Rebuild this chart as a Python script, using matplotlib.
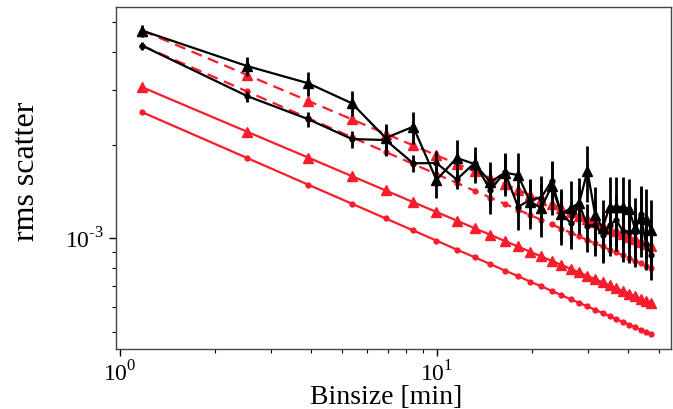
import matplotlib
matplotlib.use("Agg")
import matplotlib.pyplot as plt
from matplotlib.ticker import LogLocator, NullFormatter, FuncFormatter
import numpy as np

plt.rcParams['font.family'] = ['Liberation Serif', 'DejaVu Serif']
plt.rcParams['mathtext.fontset'] = 'custom'
plt.rcParams['mathtext.rm'] = 'Liberation Serif'
plt.rcParams['axes.unicode_minus'] = False

# binsize [min]
binsize = [1.176, 2.517, 3.929, 5.387, 6.884, 8.408, 9.959, 11.53, 13.13, 14.74,
           16.36, 18.00, 19.65, 21.32, 22.99, 24.69, 26.38, 28.09, 29.81, 31.54,
           33.28, 35.02, 36.77, 38.53, 40.29, 42.06, 43.84, 45.63, 47.43]

# rms values in units of 1e-3
exp_dot = [2.550, 1.816, 1.488, 1.293, 1.159, 1.060, 0.983, 0.920, 0.869, 0.825,
           0.787, 0.755, 0.725, 0.700, 0.677, 0.655, 0.636, 0.619, 0.603, 0.588,
           0.574, 0.561, 0.549, 0.537, 0.527, 0.517, 0.507, 0.498, 0.490]
exp_tri = [3.070, 2.207, 1.820, 1.587, 1.427, 1.308, 1.216, 1.141, 1.078, 1.026,
           0.980, 0.941, 0.905, 0.874, 0.846, 0.821, 0.797, 0.776, 0.756, 0.738,
           0.721, 0.705, 0.690, 0.677, 0.663, 0.651, 0.639, 0.628, 0.618]
white_dot = [4.180, 2.976, 2.440, 2.119, 1.899, 1.737, 1.611, 1.509, 1.424, 1.353,
             1.291, 1.237, 1.189, 1.147, 1.109, 1.074, 1.043, 1.014, 0.988, 0.963,
             0.941, 0.919, 0.900, 0.881, 0.863, 0.847, 0.831, 0.817, 0.803]
white_tri = [4.680, 3.364, 2.774, 2.420, 2.175, 1.994, 1.853, 1.739, 1.644, 1.564,
             1.494, 1.434, 1.380, 1.333, 1.290, 1.251, 1.215, 1.183, 1.153, 1.125,
             1.099, 1.075, 1.053, 1.031, 1.011, 0.993, 0.975, 0.958, 0.942]
obs_tri = [4.675, 3.595, 3.162, 2.726, 2.107, 2.291, 1.542, 1.816, 1.737, 1.519,
           1.628, 1.600, 1.313, 1.252, 1.475, 1.198, 1.252, 1.300, 1.649, 1.189,
           1.080, 1.262, 1.262, 1.262, 1.243, 1.080, 1.163, 1.154, 1.064]
obs_tri_err = [0.213, 0.249, 0.282, 0.254, 0.231, 0.270, 0.188, 0.260, 0.234, 0.244,
               0.261, 0.284, 0.245, 0.244, 0.288, 0.245, 0.278, 0.265, 0.337, 0.275,
               0.250, 0.315, 0.315, 0.315, 0.310, 0.270, 0.290, 0.288, 0.266]
obs_dot = [4.180, 2.877, 2.421, 2.091, 2.075, 1.746, 1.749, 1.548, 1.749, 1.432,
           1.636, 1.264, 1.329, 1.354, 1.530, 1.198, 1.124, 1.290, 1.096, 1.104,
           1.025, 1.104, 1.146, 1.056, 1.048, 1.048, 1.198, 0.959, 0.884]
obs_dot_err = [0.126, 0.120, 0.129, 0.128, 0.227, 0.107, 0.163, 0.107, 0.135, 0.230,
               0.234, 0.203, 0.213, 0.240, 0.245, 0.213, 0.200, 0.184, 0.195, 0.225,
               0.182, 0.225, 0.234, 0.216, 0.214, 0.214, 0.277, 0.170, 0.149]


def scale(vals):
    return [v * 1e-3 for v in vals]


def pow10(val, pos):
    e = int(round(np.log10(val)))
    return r'$10^{\text{%d}}$' % e


red = '#f81c2c'

fig = plt.figure(figsize=(6.73, 4.09), dpi=100)
ax = fig.add_axes([0.1724, 0.146, 0.8246, 0.836])

ax.plot(binsize, scale(exp_dot), '-', color=red, lw=1.6, marker='o', ms=3.5, zorder=2)
ax.plot(binsize, scale(exp_tri), '-', color=red, lw=1.6, marker='^', ms=7, zorder=2)
ax.plot(binsize, scale(white_dot), '--', color=red, lw=1.6, marker='o', ms=3.5,
        dashes=(5, 3), zorder=2)
ax.plot(binsize, scale(white_tri), '--', color=red, lw=1.6, marker='^', ms=7,
        dashes=(5, 3), zorder=2)

ax.errorbar(binsize, scale(obs_dot), yerr=scale(obs_dot_err), color='black', lw=1.6,
            marker='o', ms=3.5, elinewidth=2, capsize=0, zorder=3)
ax.errorbar(binsize, scale(obs_tri), yerr=scale(obs_tri_err), color='black', lw=1.6,
            marker='^', ms=7, elinewidth=2, capsize=0, zorder=3)

ax.set_xscale('log')
ax.set_yscale('log')
ax.set_xlim(0.971, 54.7)
ax.set_ylim(4.385e-4, 5.56e-3)

ax.yaxis.set_major_locator(LogLocator(base=10, numticks=10))
ax.yaxis.set_minor_locator(LogLocator(base=10, subs=range(2, 10), numticks=20))
ax.xaxis.set_major_formatter(FuncFormatter(pow10))
ax.yaxis.set_major_formatter(FuncFormatter(pow10))
ax.yaxis.set_minor_formatter(NullFormatter())
ax.xaxis.set_minor_formatter(NullFormatter())

ax.tick_params(which='major', direction='out', length=5, width=1, labelsize=17,
               top=False, right=False)
ax.tick_params(which='minor', direction='out', length=3, width=0.8,
               top=False, right=False)
for sp in ax.spines.values():
    sp.set_color('#444444')
    sp.set_linewidth(1)

ax.set_xlabel('Binsize [min]', fontsize=20, labelpad=0)
ax.xaxis.set_label_coords(0.487, -0.105)
ax.set_ylabel('rms scatter', fontsize=23)
ax.yaxis.set_label_coords(-0.135, 0.52)

fig.savefig('out.png', dpi=100)
